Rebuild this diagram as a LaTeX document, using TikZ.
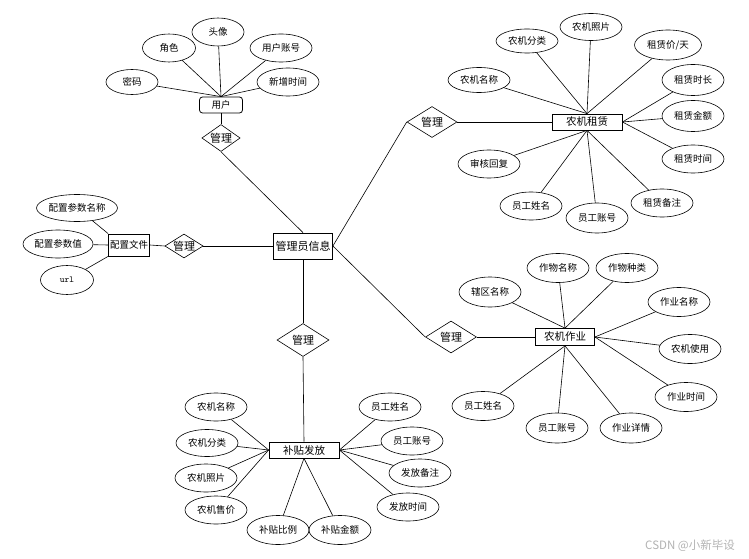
\documentclass[tikz,border=0pt]{standalone}
\usepackage{fontspec}
\setmainfont{Noto Sans CJK SC}
\usetikzlibrary{shapes.geometric}

\tikzset{
  attr/.style={draw,ellipse,inner sep=0pt,minimum width=62pt,minimum height=28pt,font=\fontsize{9.5}{11}\selectfont},
  ent/.style={draw,rectangle,inner sep=0pt,line width=0.8pt,font=\fontsize{10.5}{12}\selectfont},
  rel/.style={draw,diamond,shape aspect=1.6,inner sep=0pt,font=\fontsize{11}{13}\selectfont},
}

\begin{document}
\begin{tikzpicture}[x=1pt,y=-1pt,line width=0.6pt]
\useasboundingbox (0,0) rectangle (749,559);

% centre
\node[ent,minimum width=59pt,minimum height=26pt,font=\fontsize{11}{13}\selectfont] (admin) at (303,246) {管理员信息};

% user
\node[ent,rounded corners=3pt,minimum width=43pt,minimum height=16pt,font=\fontsize{9.5}{11}\selectfont] (user) at (221,105) {用户};
\node[rel,minimum width=38pt,minimum height=27pt] (relu) at (221,138) {管理};
\node[attr,minimum width=52pt,minimum height=25pt] (upwd) at (132,82) {密码};
\node[attr,minimum width=53pt] (urole) at (169,48) {角色};
\node[attr,minimum width=52pt] (uhead) at (218,32) {头像};
\node[attr] (uacct) at (281,48) {用户账号};
\node[attr] (unew) at (288,82) {新增时间};
\foreach \a in {upwd,urole,uhead,uacct,unew}
  \draw (\a) -- (user.north);
\draw (user) -- (relu.north);
\draw (relu.south) -- (admin.north);

% config file
\node[ent,minimum width=41pt,minimum height=22pt,font=\fontsize{9.5}{11}\selectfont] (cfg) at (129,245) {配置文件};
\node[rel,minimum width=36pt,minimum height=24pt] (relc) at (184,246) {管理};
\node[attr,minimum width=81pt,minimum height=27pt] (cname) at (77,208) {配置参数名称};
\node[attr,minimum width=70pt] (cval) at (58,244) {配置参数值};
\node[attr,minimum width=53pt,minimum height=29pt,font=\fontsize{9}{10}\ttfamily] (curl) at (67,280) {url};
\draw (cname) -- (cfg.north west);
\draw (cval) -- (cfg.west);
\draw (curl) -- (cfg.south west);
\draw (cfg.east) -- (relc.west);
\draw (relc.east) -- (admin.west);

% rental
\node[ent,minimum width=70pt,minimum height=16pt] (rent) at (587,122) {农机租赁};
\node[rel,minimum width=50pt,minimum height=31pt] (relr) at (432,122) {管理};
\node[attr,minimum height=25pt] (rname) at (479,80) {农机名称};
\node[attr,minimum height=24pt] (rcat) at (527,41) {农机分类};
\node[attr,minimum height=27pt] (rphoto) at (591,27) {农机照片};
\node[attr,minimum width=67pt,minimum height=30pt] (rprice) at (668,45) {租赁价/天};
\node[attr,minimum height=31pt] (rdur) at (693,80) {租赁时长};
\node[attr,minimum height=31pt] (ramt) at (693,116) {租赁金额};
\node[attr] (rtime) at (693,159) {租赁时间};
\node[attr] (rnote) at (662,203) {租赁备注};
\node[attr,minimum height=30pt] (racct) at (597,218) {员工账号};
\node[attr] (rstaff) at (531,206) {员工姓名};
\node[attr] (rreply) at (489,164) {审核回复};
\foreach \a in {rname,rcat,rphoto,rprice}
  \draw (\a) -- (rent.north);
\foreach \a in {rdur,ramt,rtime}
  \draw (\a) -- (rent.east);
\foreach \a in {rnote,racct,rstaff,rreply}
  \draw (\a) -- (rent.south);
\draw (admin.east) -- (relr.west);
\draw (relr.east) -- (rent.west);

% farm work
\node[ent,minimum width=59pt,minimum height=17pt] (work) at (565,337) {农机作业};
\node[rel,minimum width=51pt,minimum height=32pt] (relw) at (451,337) {管理};
\node[attr,minimum height=30pt] (wzone) at (490,292) {辖区名称};
\node[attr,minimum height=29pt] (wcrop) at (558,268) {作物名称};
\node[attr,minimum height=29pt] (wkind) at (627,268) {作物种类};
\node[attr,minimum height=29pt] (wname) at (679,302) {作业名称};
\node[attr,minimum height=29pt] (wuse) at (690,349) {农机使用};
\node[attr,minimum height=29pt] (wtime) at (686,397) {作业时间};
\node[attr,minimum height=30pt] (wdetail) at (631,428) {作业详情};
\node[attr,minimum height=30pt] (wacct) at (557,428) {员工账号};
\node[attr,minimum height=29pt] (wstaff) at (483,406) {员工姓名};
\foreach \a in {wzone,wcrop,wkind}
  \draw (\a) -- (work.north);
\foreach \a in {wname,wuse,wtime}
  \draw (\a) -- (work.east);
\foreach \a in {wdetail,wacct,wstaff}
  \draw (\a) -- (work.south);
\draw (admin.east) -- (relw.west);
\draw (relw.east) -- (work.west);

% subsidy
\node[ent,minimum width=70pt,minimum height=16pt] (sub) at (304,450) {补贴发放};
\node[rel,minimum width=52pt,minimum height=33pt] (rels) at (303,340) {管理};
\node[attr] (sname) at (216,407) {农机名称};
\node[attr,minimum height=27pt] (scat) at (207,443) {农机分类};
\node[attr] (sphoto) at (206,478) {农机照片};
\node[attr] (sprice) at (216,510) {农机售价};
\node[attr,minimum height=29pt] (sratio) at (278,530) {补贴比例};
\node[attr,minimum height=29pt] (samt) at (340,530) {补贴金额};
\node[attr] (sstaff) at (390,407) {员工姓名};
\node[attr] (sacct) at (412,441) {员工账号};
\node[attr] (snote) at (420,473) {发放备注};
\node[attr] (stime) at (408,507) {发放时间};
\foreach \a in {sname,scat,sphoto,sprice}
  \draw (\a) -- (sub.west);
\foreach \a in {sratio,samt}
  \draw (\a) -- (sub.south);
\foreach \a in {sstaff,sacct,snote,stime}
  \draw (\a) -- (sub.east);
\draw (admin.south) -- (rels.north);
\draw (rels.south) -- (sub.north);

\node[text=gray!60,font=\fontsize{11.5}{13}\selectfont] (mark) at (690,546) {CSDN @小新毕设};
\end{tikzpicture}
\end{document}
